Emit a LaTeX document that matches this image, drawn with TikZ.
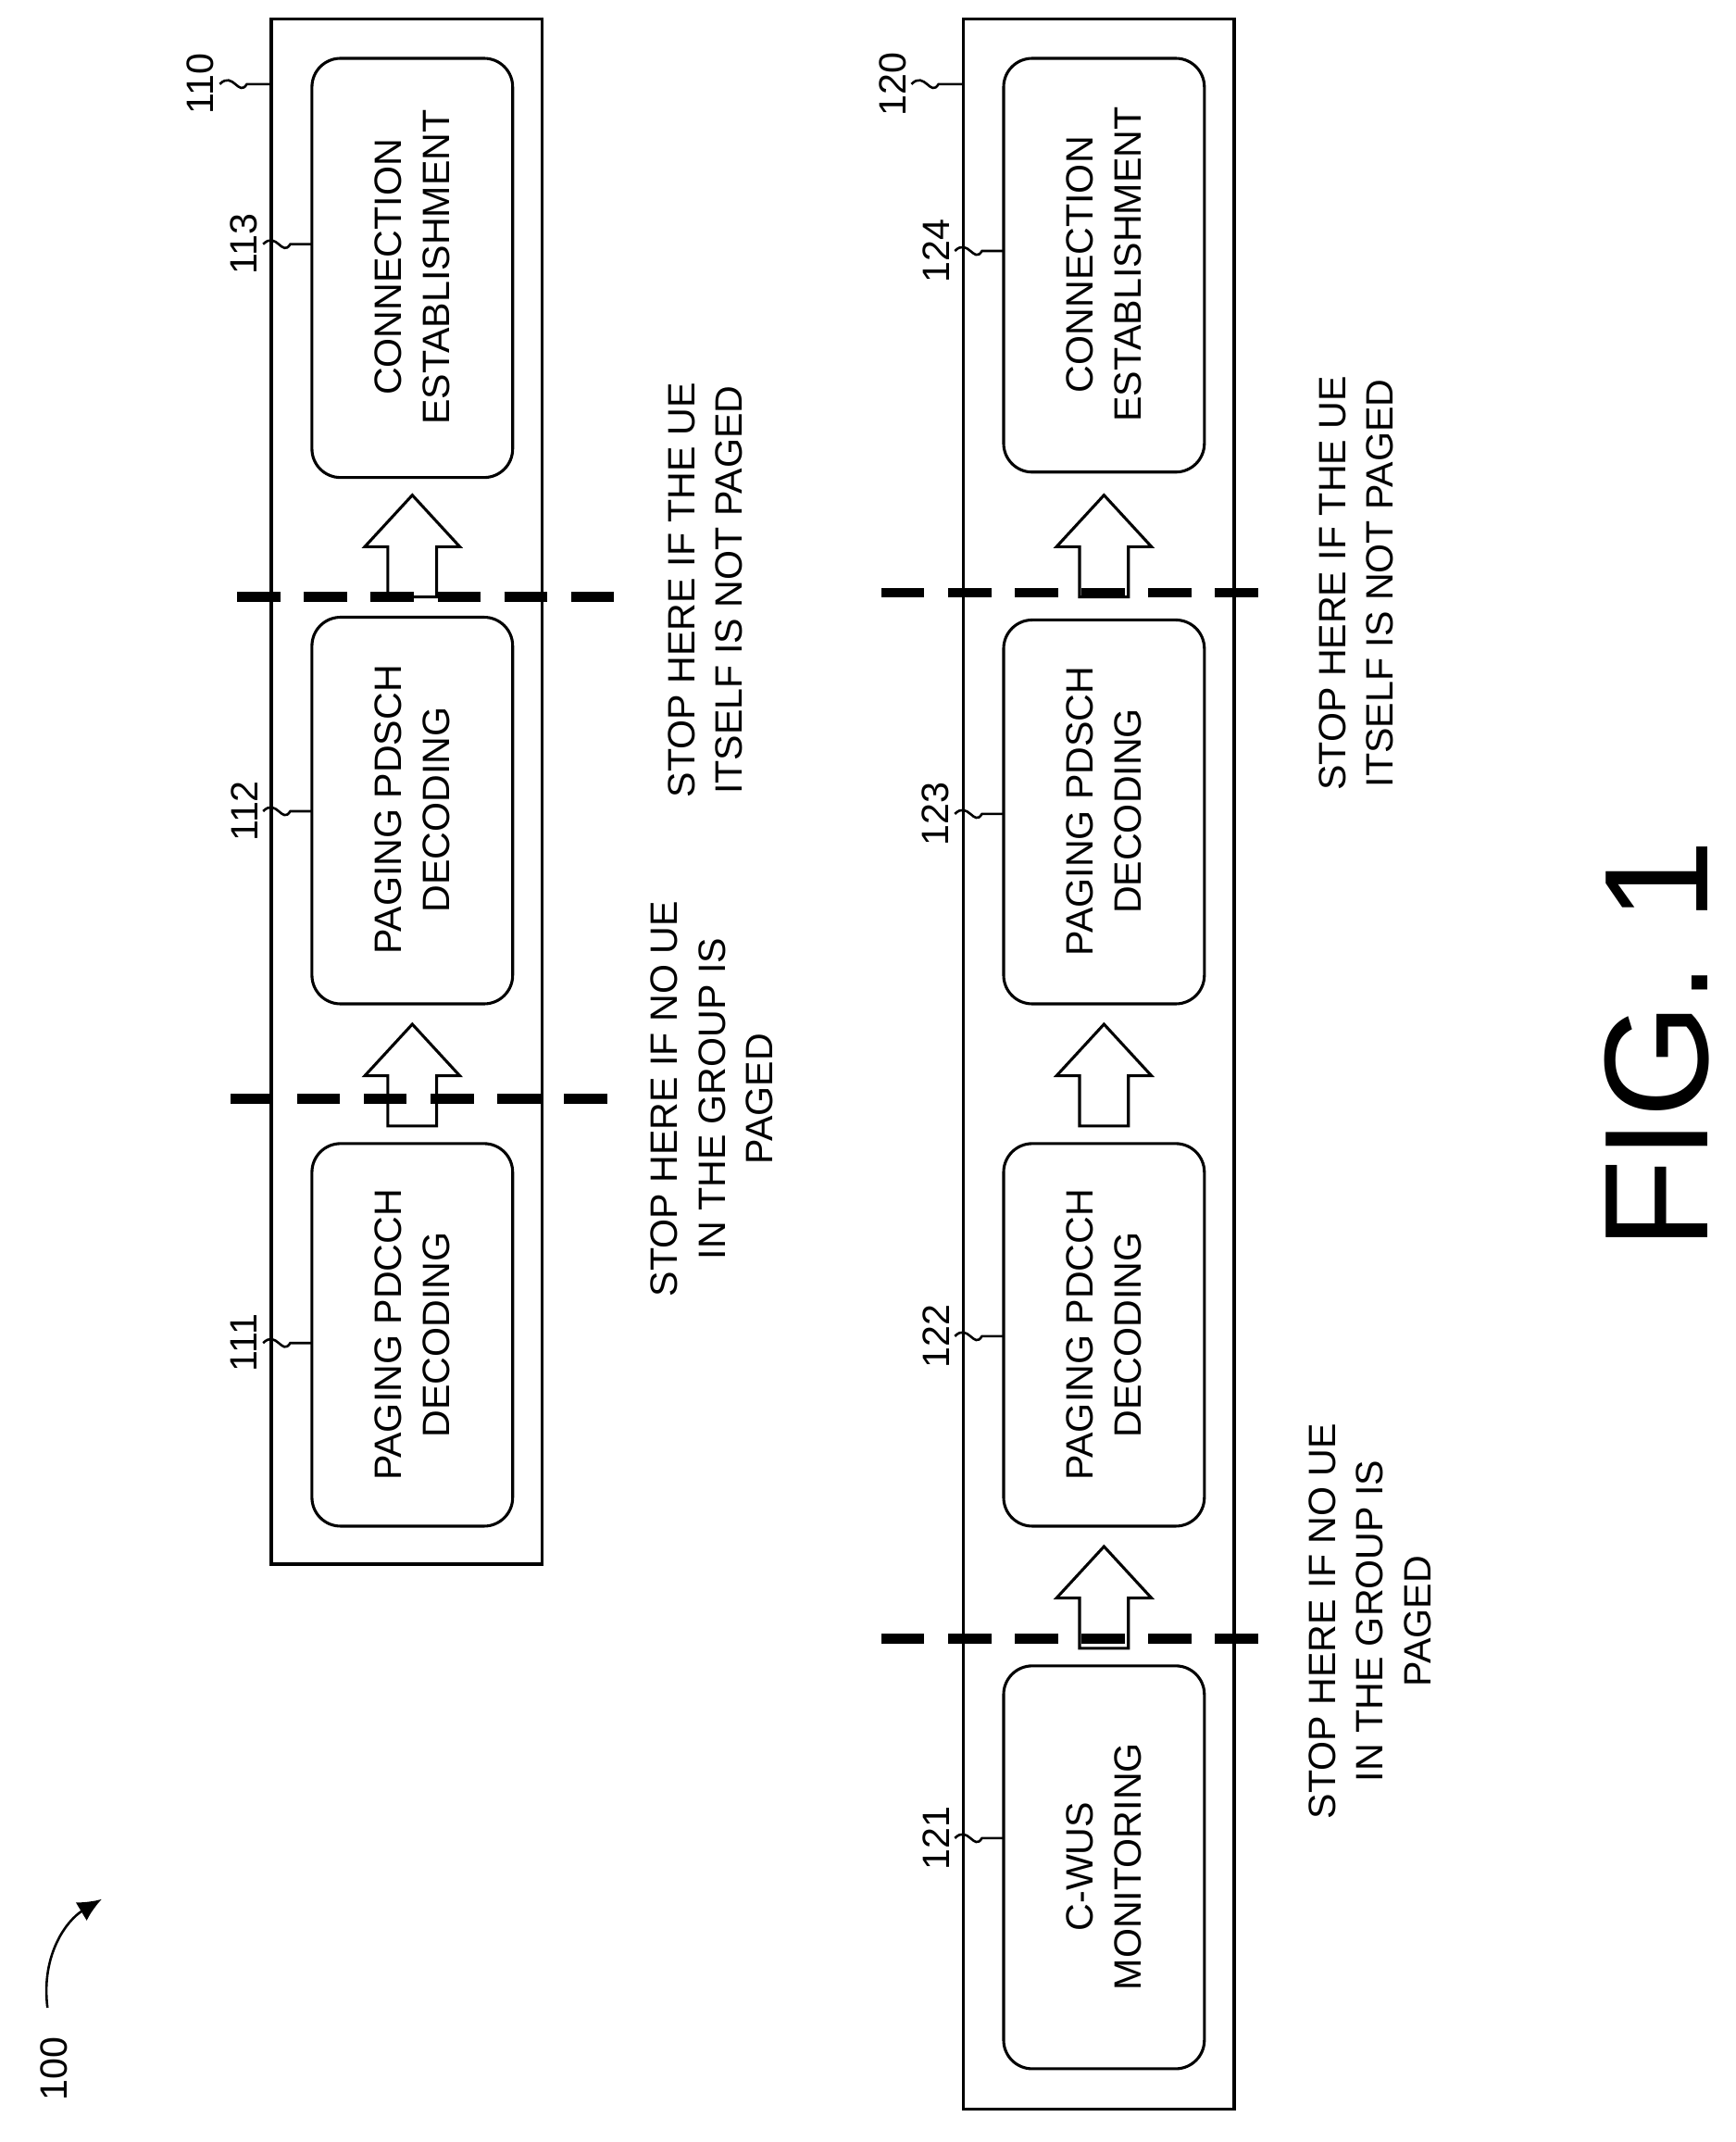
\documentclass[tikz,border=0pt]{standalone}
\usepackage{fontspec}
\setmainfont{Liberation Sans}
\usetikzlibrary{arrows.meta}
\begin{document}
\begin{tikzpicture}[x=0.02cm,y=-0.02cm,
 outer/.style={draw,line width=1.2pt},
 stepbox/.style={draw,line width=1.2pt,rounded corners=12pt},
 lab/.style={rotate=90,align=center,font=\fontsize{16}{20}\selectfont},
 num/.style={rotate=90,font=\fontsize{16}{20}\selectfont},
 cut/.style={line width=4pt,dash pattern=on 18pt off 10pt},
 leader/.style={line width=1pt}]
\useasboundingbox (0,0) rectangle (1280,1579);
\newcommand{\blockup}[3]{% x center, y top, y bottom
 \draw[line width=1.2pt,fill=white] (#1-18,#3) -- (#1-18,#2+38) -- (#1-35,#2+38) -- (#1,#2) -- (#1+35,#2+38) -- (#1+18,#2+38) -- (#1+18,#3) -- cycle;}
% top row
\draw[outer] (200,14) rectangle (400,1153);
\draw[stepbox] (230,43) rectangle (378,352); \node[lab] (t113) at (304,197) {CONNECTION\\ESTABLISHMENT};
\draw[stepbox] (230,455) rectangle (378,740); \node[lab] (t112) at (304,597) {PAGING PDSCH\\DECODING};
\draw[stepbox] (230,843) rectangle (378,1125); \node[lab] (t111) at (304,984) {PAGING PDCCH\\DECODING};
\blockup{304}{365}{440}
\blockup{304}{755}{830}
\draw[cut] (175,440) -- (465,440);
\draw[cut] (170,810) -- (460,810);
\node[lab] (l1) at (520,435) {STOP HERE IF THE UE\\ITSELF IS NOT PAGED};
\node[lab] (l2) at (525,810) {STOP HERE IF NO UE\\IN THE GROUP IS\\PAGED};
% bottom row
\draw[outer] (710,14) rectangle (910,1555);
\draw[stepbox] (740,43) rectangle (888,348); \node[lab] (t124) at (814,195) {CONNECTION\\ESTABLISHMENT};
\draw[stepbox] (740,457) rectangle (888,740); \node[lab] (t123) at (814,598) {PAGING PDSCH\\DECODING};
\draw[stepbox] (740,843) rectangle (888,1125); \node[lab] (t122) at (814,984) {PAGING PDCCH\\DECODING};
\draw[stepbox] (740,1228) rectangle (888,1525); \node[lab] (t121) at (814,1376) {C-WUS\\MONITORING};
\blockup{814}{365}{440}
\blockup{814}{755}{830}
\blockup{814}{1140}{1215}
\draw[cut] (650,437) -- (940,437);
\draw[cut] (650,1208) -- (940,1208);
\node[lab] (l3) at (1000,430) {STOP HERE IF THE UE\\ITSELF IS NOT PAGED};
\node[lab] (l4) at (1010,1195) {STOP HERE IF NO UE\\IN THE GROUP IS\\PAGED};
% reference numbers
\foreach \n/\x/\y/\bx in {110/148/62/200, 113/180/180/230, 112/180/598/230, 111/180/990/230,
  120/658/62/710, 124/690/185/740, 123/690/600/740, 122/690/985/740, 121/690/1355/740}{
  \node[num] (n\n) at (\x,\y) {\n};
  \draw[leader] (\x+14,\y) .. controls (\x+24,\y-10) and (\x+28,\y+10) .. (\x+34,\y) -- (\bx,\y);
}
\node[num] (n100) at (40,1525) {100};
\coordinate (a100) at (75,1400);
\draw[leader,-{Latex[length=10pt,width=9pt]}] (35,1480) .. controls (30,1440) and (50,1415) .. (a100);
\node[rotate=90,font=\fontsize{62}{70}\selectfont] (fig) at (1222,770) {FIG. 1};
\end{tikzpicture}
\end{document}
